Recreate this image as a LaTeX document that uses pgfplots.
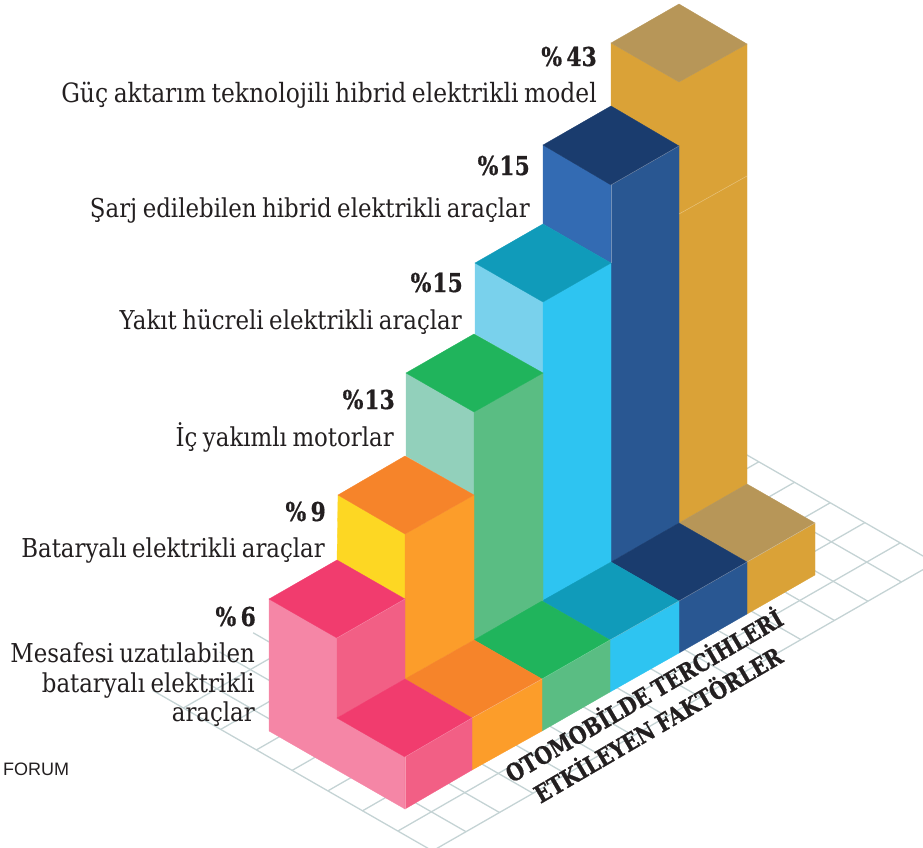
\documentclass[border=0pt]{standalone}
\usepackage{pgfplots}
\usepackage{fontspec}
\pgfplotsset{compat=1.18}
\setmainfont{Liberation Sans}
\newfontfamily\lab[FakeStretch=0.88,WordSpace=0.75]{DejaVu Serif}
\newfontfamily\labb[FakeStretch=0.84,FakeBold=0.6]{DejaVu Serif Bold}
\newfontfamily\rot[FakeStretch=0.84,FakeBold=0.8,WordSpace=0.8]{DejaVu Serif Bold}
\definecolor{gridc}{HTML}{C4D3D4}
\definecolor{pt}{HTML}{F13C6E}\definecolor{pl}{HTML}{F586A6}\definecolor{pr}{HTML}{F25F85}
\definecolor{ot}{HTML}{F6842A}\definecolor{ol}{HTML}{FDD723}\definecolor{or}{HTML}{FC9D2A}
\definecolor{gt}{HTML}{20B45C}\definecolor{gl}{HTML}{92D0BB}\definecolor{gr}{HTML}{5ABD83}
\definecolor{ct}{HTML}{109BBA}\definecolor{cl}{HTML}{79D1EC}\definecolor{cr}{HTML}{2EC4F1}
\definecolor{bt}{HTML}{1A3C6E}\definecolor{bl}{HTML}{336BB3}\definecolor{br}{HTML}{295792}
\definecolor{yt}{HTML}{B79658}\definecolor{yf}{HTML}{DAA237}
\definecolor{ink}{HTML}{231F20}
\newcommand{\face}[2]{\addplot[fill=#1,draw=#1,line width=0.3pt] coordinates {#2} -- cycle;}
\newcommand{\gline}[4]{\addplot[gridc,line width=1.3pt] coordinates {(#1,#2) (#3,#4)};}
\newcommand{\seam}[4]{\addplot[white,opacity=0.35,line width=0.5pt] coordinates {(#1,#2) (#3,#4)};}
\newcommand{\lbl}[4]{\node[anchor=base east,inner sep=0pt,text=ink] at (axis cs:#1,#2) {\fontsize{#3}{#3}\selectfont\lab #4};}
\newcommand{\pct}[3]{\node[anchor=base east,inner sep=0pt,text=ink] at (axis cs:#1,#2) {\fontsize{26}{26}\selectfont\labb #3};}
\begin{document}
\begin{tikzpicture}
\path[use as bounding box] (0,0) rectangle (923pt,848pt);
\begin{axis}[at={(0,0)},anchor=south west,scale only axis,width=923pt,height=848pt,xmin=0,xmax=923,ymin=0,ymax=848,y dir=reverse,hide axis,clip=true]
% floor grid
\gline{432.5}{850.9}{934.7}{562.9}
\gline{397.9}{831}{900}{543}
\gline{362.5}{810.8}{864.7}{522.7}
\gline{327.8}{790.9}{830}{502.9}
\gline{292.1}{770.4}{794.3}{482.4}
\gline{256.4}{749.9}{758.6}{461.9}
\gline{220.7}{729.4}{722.9}{441.4}
\gline{183.3}{708}{685.5}{420}
\gline{152.7}{690.4}{432.5}{850.9}
\gline{186.2}{671.2}{466}{831.7}
\gline{219.7}{652}{499.5}{812.5}
\gline{253.2}{632.8}{533}{793.3}
\gline{286.7}{613.6}{566.5}{774.1}
\gline{320.2}{594.4}{599.9}{754.9}
\gline{353.6}{575.1}{633.4}{735.6}
\gline{387.1}{555.9}{666.9}{716.4}
\gline{420.6}{536.7}{700.4}{697.2}
\gline{454.1}{517.5}{733.9}{678}
\gline{487.6}{498.3}{767.4}{658.8}
\gline{521.1}{479.1}{800.9}{639.6}
\gline{554.6}{459.9}{834.4}{620.4}
\gline{588.1}{440.7}{867.9}{601.2}
\gline{621.6}{421.5}{901.4}{582}
\gline{655.1}{402.3}{934.9}{562.8}
% gold
\face{yf}{(611,43)(679,82)(679,146)(611,106)}
\face{yf}{(679,82)(747,44)(747,484)(679,523)}
\face{yt}{(611,43)(679,4)(747,44)(679,82)}
\face{yf}{(747,562)(815,523)(815,575)(747,614)}
\face{yt}{(679,523)(747,484)(815,523)(747,562)}
% blue
\face{bl}{(543,145)(611,185)(611,263)(543,224)}
\face{br}{(611,185)(679,146)(679,523)(611,562)}
\face{bt}{(543,145)(611,106)(679,146)(611,185)}
\face{br}{(679,601)(747,562)(747,614)(679,653)}
\face{bt}{(611,562)(679,523)(747,562)(679,601)}
% cyan
\face{cl}{(475,263)(543,302)(543,373)(475,334)}
\face{cr}{(543,302)(611,263)(611,562)(543,601)}
\face{ct}{(475,263)(543,224)(611,263)(543,302)}
\face{cr}{(610,640)(679,601)(679,653)(610,692)}
\face{ct}{(542,601)(611,562)(679,601)(610,640)}
% green
\face{gl}{(406,373)(474,412)(474,495)(406,456)}
\face{gr}{(474,412)(543,373)(543,601)(474,640)}
\face{gt}{(406,373)(474,334)(543,373)(474,412)}
\face{gr}{(542,679)(610,640)(610,692)(542,731)}
\face{gt}{(474,640)(542,601)(610,640)(542,679)}
% orange
\face{ol}{(338,495)(405,534)(405,599)(337,560)}
\face{or}{(405,534)(474,495)(474,640)(405,679)}
\face{ot}{(338,495)(405,456)(474,495)(405,534)}
\face{or}{(472,718)(542,679)(542,731)(472,770)}
\face{ot}{(405,679)(474,640)(542,679)(472,718)}
% pink
\face{pl}{(269,599)(337,638)(337,770)(269,731)}
\face{pr}{(337,638)(405,599)(405,679)(337,718)}
\face{pt}{(269,599)(337,560)(405,599)(337,638)}
\face{pl}{(337,718)(405,757)(405,809)(337,770)}
\face{pr}{(405,757)(472,718)(472,770)(405,809)}
\face{pt}{(337,718)(405,679)(472,718)(405,757)}
% seams
\seam{679}{214}{747}{176}
\seam{405}{757}{405}{809}
\seam{337}{638}{405}{599}
\seam{405}{757}{472}{718}
\seam{611}{185}{611}{263}
\seam{611}{185}{679}{146}
\seam{679}{601}{747}{562}
\seam{747}{562}{815}{523}
\seam{610}{640}{679}{601}
\seam{542}{679}{610}{640}
\seam{472}{718}{542}{679}
% labels
\pct{597}{66}{\%\,43}
\lbl{597}{103}{26.6}{Güç aktarım teknolojili hibrid elektrikli model}
\pct{530}{175}{\%\kern1pt15}
\lbl{530}{217}{26}{Şarj edilebilen hibrid elektrikli araçlar}
\pct{463}{292}{\%\kern1pt15}
\lbl{462}{329}{26}{Yakıt hücreli elektrikli araçlar}
\pct{395}{409}{\%\kern1pt13}
\lbl{394}{446}{26}{İç yakımlı motorlar}
\pct{326}{521}{\%\,9}
\lbl{325}{557}{26}{Bataryalı elektrikli araçlar}
\pct{256}{626}{\%\,6}
\lbl{255}{662}{26}{Mesafesi uzatılabilen}
\lbl{255}{692}{26}{bataryalı elektrikli}
\lbl{255}{721}{26}{araçlar}
\node[anchor=base west,inner sep=0pt,text=ink] at (axis cs:3,775) {\fontsize{18}{18}\selectfont FORUM};
\node[rotate=30.3,inner sep=0pt,text=ink] at (axis cs:643,694) {\fontsize{24}{24}\selectfont\rot OTOMOBİLDE TERCİHLERİ};
\node[rotate=30.3,inner sep=0pt,text=ink] at (axis cs:657,723) {\fontsize{24}{24}\selectfont\rot ETKİLEYEN FAKTÖRLER};
\end{axis}
\end{tikzpicture}
\end{document}
